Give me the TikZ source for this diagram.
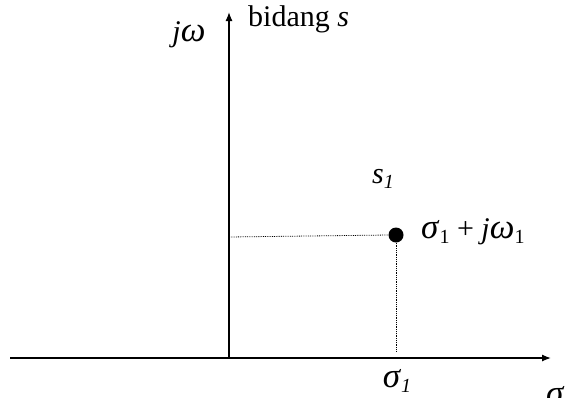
\documentclass[tikz,border=0pt]{standalone}
\usepackage{fontspec}
\setmainfont{Liberation Serif}
\usetikzlibrary{arrows.meta}
\newcommand{\sub}[1]{\raisebox{-0.35ex}{\fontsize{20}{22}\selectfont #1}}
\newcommand{\gk}[1]{{\fontsize{35}{36}\selectfont\textit{#1}}}
\begin{document}
\begin{tikzpicture}[x=1pt,y=-1pt,
  lbl/.style={inner sep=0pt,font=\fontsize{30}{33}\selectfont},
  axis/.style={line width=1.3pt,-{Latex[length=9pt,width=7pt]}},
  guide/.style={densely dotted,line width=0.8pt}]
\useasboundingbox (0,0) rectangle (567,397);
\coordinate (o) at (229,358);
\coordinate (ytop) at (229,12);
\coordinate (xl) at (10,358);
\coordinate (xr) at (551,358);
\coordinate (yfoot) at (396,351);
\coordinate (ywall) at (229,237);
\draw[axis] (o) -- (ytop);
\draw[axis] (xl) -- (xr);
\node[circle,fill=black,minimum size=15pt,inner sep=0pt] (p) at (396,235) {};
\draw[guide] (ywall) -- (p.west);
\draw[guide] (p.south) -- (yfoot);
\node[lbl] (jw) at (189,35) {\textit{j}\gk{ω}};
\node[lbl,anchor=west] (bid) at (248,19) {bidang \textit{s}};
\node[lbl] (s1) at (383,179) {\textit{s}\sub{\textit{1}}};
\node[lbl,anchor=west] (pt) at (421,232) {\gk{σ}\sub{1} + \textit{j}\gk{ω}\sub{1}};
\node[lbl] (sg1) at (397,381) {\gk{σ}\sub{\textit{1}}};
\node[lbl,anchor=west] (sg) at (546,396) {\gk{σ}};
\end{tikzpicture}
\end{document}
